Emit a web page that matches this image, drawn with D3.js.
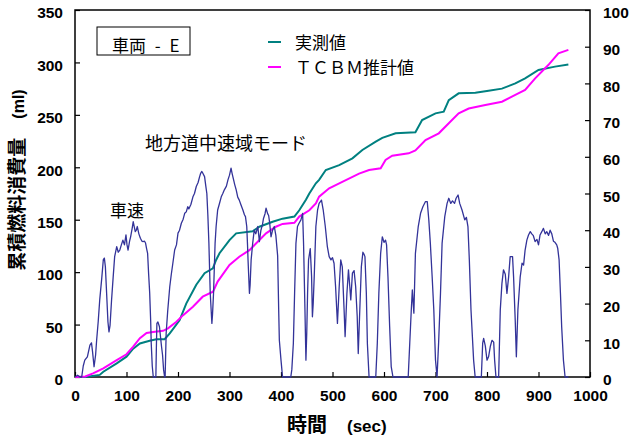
<!DOCTYPE html>
<html>
<head>
<meta charset="utf-8">
<script src="https://cdn.jsdelivr.net/npm/d3@7/dist/d3.min.js"></script>
<style>
  html, body { margin: 0; padding: 0; background: #fff; }
  svg { display: block; }
  .num { font-family: "Liberation Sans", Arial, sans-serif; font-weight: bold; font-size: 15.5px; fill: #000; }
  .jp { font-family: "Noto Sans CJK JP", sans-serif; fill: #000; }
</style>
</head>
<body>
<svg id="chart" width="630" height="439"></svg>
<script>
// Time axis (sec) and series sampled along it
const speedTime = [0,5,10,13,16,19,24,29,32,34,37,40,42,45,48,52,55,57,59,61,64,66,68,71,74,77,81,84,87,90,93,96,99,101,103,106,108,111,113,115,117,119,121,124,127,130,132,135,137,139,141,143,145,147,148,150,152,157,158,159,161,164,166,168,170,172,174,175,177,180,184,187,190,193.5,197,200,203,206.5,210,213,216,219,221,225,229,232,235.5,239,242,244,246,248,251.6,254,256,258,260,262.6,265.8,267,269,272,274,277,280,284,287,290,294,297,300,303,305,308,310,313,316,319,322,326,329,331,333.5,335,336,338.7,340,342,345,348,351,353,355,358,361,364,366,369,371,374,376,378,380.6,383.7,387,390,393.5,395.5,396.8,400,403,419,421,424,426.4,429,432,435,438.7,442,443.8,446.5,448.4,450,451.6,453.5,456.8,459.4,461,462.5,464.5,467.7,471,474,478.6,482,486,490,493.5,497,500,503,506,509.6,513,516,519,522.5,524.5,528,531,533.6,535.5,538.7,541.9,545,548,550,553,556,559,561,563,565.7,567.7,571,584,587,590,593.5,596.7,600,603,605,607.7,611,614,617.4,647,650,653,655,658,661,666.5,671,675.5,680.6,684,687,690,693.5,696.7,700,703,706,709.7,712.8,718,722.5,725.8,729.7,733,737,740,743.8,747,751.5,756.8,760,763,765.7,768.9,774,777,789,791.6,793.5,796.7,800,803,806.4,809.6,813,814.8,817.4,822.6,825.8,829,832,835.5,838.7,842,845,849.6,851.6,854.8,857,860,864.5,868,871,874,877.4,880.6,884,887,890,893.4,897,900,903,906.4,909.6,913,916,919.6,922.6,925.8,929,932,935.4,937.4,940,942.6,945,948.4,951.6,958];
// Vehicle speed (km/h, right axis)
const speedValue = [0,0.5,0,0,3,4.6,5.5,8.7,9.3,7,2.8,6,10,15,21,27,32,32.4,30,24,15,12.3,14,21,27,32.8,35.5,34,34.6,36,37.3,36,38.7,36,34.6,37,38.2,40.5,42.3,41,39.6,40,41,39,37.8,37,36.9,37,36.5,35,33.7,28,23,15,9.3,3,0,0,8,14.6,15,13.7,11,8.3,6,2,0,0,11.9,18,24.6,28,31,34.6,36,39.2,40,41.9,43,44.6,45,46.4,45.8,47,49.1,50,51.9,53,54.6,55.5,56,55.6,54.6,52,50,44,36.4,22.8,14.6,17,22.8,36.4,41,45.5,47,49.1,50,51,52,53.7,55,56.9,55.5,53.7,52.5,51,49,48.2,47,45.5,44.2,43.7,41,36,31.9,22.8,25,31.9,36.4,40,39,40,41,36.9,40,41.5,43.2,44.5,46,44.5,44,42,38.2,40,41,38.6,33,18.3,10,4.6,0,0,2,9.2,22.8,36.4,41,41.9,42.8,44.6,36.4,18.3,4.6,12,22.8,31.9,35,27.3,16.4,20,27.3,41,45.5,47.3,48.2,45.5,41,35.5,32.8,31.9,32.5,31,24.6,14.6,24.6,31.9,30,18.3,11,22.8,29.2,24.6,21,28.3,29,24.6,16.4,6.4,18.3,30,34,33.5,32.8,22.8,9.2,0,0,9.2,22.8,33.7,38.2,36.7,37.3,36,27.3,13.7,2.8,0,0,9.2,18.3,23.7,17.4,33.7,41,44.6,46.4,47.8,47.8,42.8,36.4,27.3,18.3,4.6,0,9.2,22.8,36.4,43.7,47.3,48.7,47.3,48,47.3,48.7,49.6,47.3,45.5,42.8,43.5,41,31.9,18.3,4.6,0,0,9.2,10.5,8.5,4.6,5.5,8.3,10,9.5,4.6,0,0,18.3,25.5,29.2,28,22.8,27.3,32.8,32.8,27.3,15.5,5.5,18.3,27.3,31,30.5,34.6,37.3,38.7,39.6,39,38.5,36.9,37.5,36,38.7,39.6,40.5,39,39.6,38.6,40,39,37,36.7,36,35,31.9,22.8,13.7,4.6,0,0];

// Measured cumulative fuel consumption (ml, left axis)
const measuredTime = [0,20,48,55,81,100,113,126,145,158,174,184,203,216,235.5,251.6,267.7,274,280.6,300,313,345,358,383.8,403,426,435.5,448.4,455,467.7,474,487,513,538.7,558,584,596.7,622.6,661,674,700,716,725.8,745,777.4,803,829,855,874,900,932,958];
const measuredValue = [0,0,2,5,13,19.4,27,32,34.6,36,36,41.6,54,70,88,99,103.6,111.6,118,130.6,137,139,143.3,148,151,153,159,169,175,184.7,188,197.4,202,208.5,216.5,224.4,228,232.4,233.5,245,251.4,253,264,270.5,271,273,275,280,284.8,292.8,296,298];

// TCBM estimated cumulative fuel consumption (ml, left axis)
const tcbmTime = [0,20,35,55,81,100,113,126,139,151.6,171,180.6,197,210,229,248,268,277,300,319,338.7,354.8,371,390,403,426,435.5,455,467.7,474,493.5,519,551.6,571,593.5,603,616,648,661,680.6,706.4,725.8,745,764.5,796.8,829,855,874,893.5,919,938.6,958];
const tcbmValue = [0,0.5,3.5,8.3,16,21.7,29,37,42,43,44,46.4,52.7,59,67,76.6,81.3,91,106.8,114.7,121,129,137,143.3,146,147,153,159,165.6,172,180,186,194,197.4,199,207,211,213.3,216,226,232.4,242,251.4,256,259.4,262.5,269,273.7,284.8,297.5,308.7,312];

const xTicks = [0,100,200,300,400,500,600,700,800,900,1000];
const leftTicks = [0,50,100,150,200,250,300,350];
const rightTicks = [0,10,20,30,40,50,60,70,80,90,100];

const plot = { left: 75, right: 590, top: 10, bottom: 377 };
const svg = d3.select("#chart");

const x = d3.scaleLinear().domain([0, 1000]).range([plot.left, plot.right]);
const yFuel = d3.scaleLinear().domain([0, 350]).range([plot.bottom, plot.top]);
const ySpeed = d3.scaleLinear().domain([0, 100]).range([plot.bottom, plot.top]);
const plain = d3.format("d");

// Axes with inward ticks
const gx = svg.append("g").attr("transform", `translate(0,${plot.bottom})`)
  .call(d3.axisBottom(x).tickValues(xTicks).tickFormat(plain).tickSizeInner(-5).tickSizeOuter(0).tickPadding(13));
const gl = svg.append("g").attr("transform", `translate(${plot.left},0)`)
  .call(d3.axisLeft(yFuel).tickValues(leftTicks).tickFormat(plain).tickSizeInner(-5).tickSizeOuter(0).tickPadding(12));
const gr = svg.append("g").attr("transform", `translate(${plot.right},0)`)
  .call(d3.axisRight(ySpeed).tickValues(rightTicks).tickFormat(plain).tickSizeInner(-5).tickSizeOuter(0).tickPadding(13));

[gx, gl, gr].forEach(g => {
  g.select(".domain").remove();
  g.selectAll(".tick line").attr("stroke", "#000").attr("stroke-width", 1.2);
  g.selectAll(".tick text").attr("class", "num").attr("fill", "#000");
});
gl.selectAll(".tick text").attr("dy", "0.82em").attr("y", -5);
gr.selectAll(".tick text").attr("dy", "0.82em").attr("y", -5);
gx.selectAll(".tick text").attr("dy", "0.71em");

// Plot frame
svg.append("rect")
  .attr("x", plot.left).attr("y", plot.top)
  .attr("width", plot.right - plot.left).attr("height", plot.bottom - plot.top)
  .attr("fill", "none").attr("stroke", "#000").attr("stroke-width", 1.5);

// Cumulative fuel curves
const fuelLine = (times, values) => d3.line()
  .x((d, i) => x(times[i]))
  .y(d => yFuel(d))(values);

svg.append("path").attr("d", fuelLine(measuredTime, measuredValue))
  .attr("fill", "none").attr("stroke", "#008080").attr("stroke-width", 2);
svg.append("path").attr("d", fuelLine(tcbmTime, tcbmValue))
  .attr("fill", "none").attr("stroke", "#ff00ff").attr("stroke-width", 2);

// Vehicle speed trace
svg.append("path")
  .attr("d", d3.line().x((d, i) => x(speedTime[i])).y(d => ySpeed(d))(speedValue))
  .attr("fill", "none").attr("stroke", "#333399").attr("stroke-width", 1.3)
  .attr("stroke-linejoin", "round");

// Vehicle name box
svg.append("rect").attr("x", 97).attr("y", 27).attr("width", 93).attr("height", 28)
  .attr("fill", "#fff").attr("stroke", "#000").attr("stroke-width", 1);
svg.append("text").attr("class", "jp").attr("x", 112).attr("y", 52)
  .attr("font-size", 17).attr("word-spacing", 5).text("車両 - E");

// Legend
const legend = [
  { label: "実測値", color: "#008080", y: 42 },
  { label: "ＴＣＢＭ推計値", color: "#ff00ff", y: 67 }
];
legend.forEach(d => {
  svg.append("line").attr("x1", 268).attr("x2", 281).attr("y1", d.y).attr("y2", d.y)
    .attr("stroke", d.color).attr("stroke-width", 2);
  svg.append("text").attr("class", "jp").attr("x", 295).attr("y", d.y + 7)
    .attr("font-size", 17).text(d.label);
});

// Annotations
svg.append("text").attr("class", "jp").attr("x", 145).attr("y", 150)
  .attr("font-size", 18).text("地方道中速域モード");
svg.append("text").attr("class", "jp").attr("x", 110).attr("y", 217)
  .attr("font-size", 17).text("車速");

// Axis titles
const xt = svg.append("text").attr("x", 287).attr("y", 432).attr("font-weight", "bold");
xt.append("tspan").attr("class", "jp").attr("font-size", 20).text("時間　");
xt.append("tspan").attr("font-family", "Liberation Sans, Arial, sans-serif").attr("font-size", 17).text("(sec)");

const yt = svg.append("text").attr("transform", "translate(24,180) rotate(-90)")
  .attr("text-anchor", "middle").attr("font-weight", "bold");
yt.append("tspan").attr("class", "jp").attr("font-size", 19).text("累積燃料消費量　");
yt.append("tspan").attr("font-family", "Liberation Sans, Arial, sans-serif").attr("font-size", 16).text("(ml)");
</script>
</body>
</html>
